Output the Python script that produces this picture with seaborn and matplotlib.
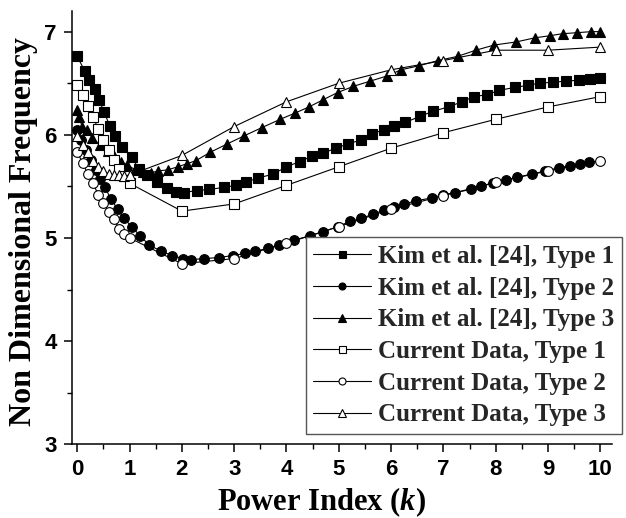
import matplotlib
matplotlib.use("Agg")
import matplotlib.pyplot as plt
from matplotlib.ticker import MultipleLocator
import seaborn as sns
import pandas as pd

sns.set_theme(style="ticks")
plt.rcParams["mathtext.fontset"] = "custom"
plt.rcParams["mathtext.it"] = "Liberation Serif:bold:italic"
plt.rcParams["mathtext.rm"] = "Liberation Serif:bold"

# Kim et al. [24] reference curves
kim1_k = [0, 0.14, 0.23, 0.33, 0.42, 0.51, 0.62, 0.73, 0.86, 1.04, 1.18, 1.34, 1.53, 1.71,
          1.89, 2.04, 2.28, 2.52, 2.8, 3.03, 3.22, 3.45, 3.75, 4.0, 4.25, 4.48, 4.69, 4.94,
          5.17, 5.42, 5.64, 5.87, 6.05, 6.27, 6.56, 6.81, 7.10, 7.35, 7.59, 7.84, 8.06, 8.37,
          8.62, 8.84, 9.10, 9.35, 9.6, 9.8, 10.0]
kim1_f = [6.76, 6.62, 6.53, 6.44, 6.34, 6.22, 6.09, 5.99, 5.88, 5.78, 5.67, 5.61, 5.54, 5.48,
          5.45, 5.44, 5.46, 5.47, 5.49, 5.51, 5.54, 5.58, 5.62, 5.69, 5.74, 5.79, 5.82, 5.87,
          5.91, 5.95, 6.01, 6.05, 6.09, 6.12, 6.18, 6.23, 6.27, 6.32, 6.37, 6.39, 6.43, 6.46,
          6.48, 6.50, 6.51, 6.52, 6.53, 6.54, 6.55]

kim2_k = [0, 0.08, 0.17, 0.26, 0.35, 0.44, 0.53, 0.64, 0.77, 0.89, 1.04, 1.2, 1.38, 1.61,
          1.81, 2.02, 2.18, 2.42, 2.7, 2.98, 3.21, 3.4, 3.64, 3.86, 4.15, 4.44, 4.70, 4.98,
          5.21, 5.43, 5.65, 5.87, 6.05, 6.25, 6.48, 6.79, 7.0, 7.23, 7.52, 7.71, 7.94, 8.19,
          8.41, 8.70, 8.95, 9.21, 9.43, 9.62, 9.78]
kim2_f = [6.05, 5.95, 5.85, 5.76, 5.66, 5.57, 5.49, 5.38, 5.28, 5.19, 5.11, 5.02, 4.93, 4.87,
          4.83, 4.80, 4.79, 4.80, 4.81, 4.83, 4.85, 4.87, 4.90, 4.93, 4.98, 5.02, 5.06, 5.11,
          5.16, 5.19, 5.23, 5.27, 5.30, 5.33, 5.36, 5.39, 5.42, 5.44, 5.47, 5.50, 5.53, 5.56,
          5.59, 5.62, 5.65, 5.68, 5.70, 5.72, 5.74]

kim3_k = [0, 0.04, 0.09, 0.19, 0.29, 0.44, 0.58, 0.70, 0.83, 0.95, 1.11, 1.25, 1.4, 1.55,
          1.73, 1.92, 2.1, 2.27, 2.54, 2.86, 3.19, 3.53, 3.88, 4.16, 4.43, 4.70, 4.98, 5.28,
          5.6, 5.92, 6.19, 6.54, 6.9, 7.27, 7.62, 7.97, 8.39, 8.75, 9.03, 9.28, 9.56, 9.83, 10.0]
kim3_f = [6.24, 6.17, 6.08, 6.05, 5.97, 5.90, 5.84, 5.79, 5.74, 5.71, 5.66, 5.64, 5.63, 5.65,
          5.66, 5.69, 5.72, 5.75, 5.83, 5.91, 5.99, 6.07, 6.15, 6.21, 6.27, 6.34, 6.41, 6.47,
          6.52, 6.57, 6.63, 6.67, 6.72, 6.76, 6.82, 6.87, 6.90, 6.94, 6.96, 6.98, 6.99, 7.0, 7.0]

# Present results
cur_k = [0, 0.1, 0.2, 0.3, 0.4, 0.5, 0.6, 0.7, 0.8, 0.9, 1, 2, 3, 4, 5, 6, 7, 8, 9, 10]
cur1_f = [6.48, 6.39, 6.28, 6.17, 6.06, 5.95, 5.85, 5.76, 5.67, 5.60, 5.53,
          5.26, 5.33, 5.51, 5.69, 5.87, 6.02, 6.15, 6.27, 6.37]
cur2_f = [5.83, 5.73, 5.62, 5.53, 5.42, 5.34, 5.25, 5.18, 5.09, 5.04, 5.00,
          4.75, 4.80, 4.95, 5.11, 5.28, 5.41, 5.54, 5.65, 5.75]
cur3_f = [5.99, 5.90, 5.83, 5.75, 5.69, 5.65, 5.62, 5.61, 5.61, 5.60, 5.61,
          5.80, 6.08, 6.32, 6.50, 6.63, 6.72, 6.82, 6.82, 6.85]

labels = ["Kim et al. [24], Type 1", "Kim et al. [24], Type 2", "Kim et al. [24], Type 3",
          "Current Data, Type 1", "Current Data, Type 2", "Current Data, Type 3"]

series = [
    (kim1_k, kim1_f, "s", "black"),
    (kim2_k, kim2_f, "o", "black"),
    (kim3_k, kim3_f, "^", "black"),
    (cur_k, cur1_f, "s", "white"),
    (cur_k, cur2_f, "o", "white"),
    (cur_k, cur3_f, "^", "white"),
]

W, H = 626, 518
ax_left, ax_right, ax_bottom, ax_top = 71.7, 611.8, 444.3, 11.0

fig = plt.figure(figsize=(W / 100, H / 100), dpi=100)
ax = fig.add_axes([ax_left / W, 1 - ax_bottom / H, (ax_right - ax_left) / W,
                   (ax_bottom - ax_top) / H])

for (kx, fy, mk, face), lab in zip(series, labels):
    df = pd.DataFrame({"k": kx, "f": fy})
    sns.lineplot(data=df, x="k", y="f", ax=ax, color="black", linewidth=0.8,
                 marker=mk, markersize=7.5 if mk == "^" else 7, markerfacecolor=face,
                 markeredgecolor="black", markeredgewidth=0.8, label=lab, sort=False,
                 estimator=None)

ax.set_xlim(-0.107, 10.22)
ax.set_ylim(3, 7.2)
ax.xaxis.set_major_locator(MultipleLocator(1))
ax.xaxis.set_minor_locator(MultipleLocator(0.5))
ax.yaxis.set_major_locator(MultipleLocator(1))
ax.yaxis.set_minor_locator(MultipleLocator(0.5))
ax.tick_params(which="major", direction="out", length=6, width=1.1, color="black", pad=4.7)
ax.tick_params(which="minor", direction="out", length=3.6, width=1.0, color="black")
for lab in ax.get_xticklabels() + ax.get_yticklabels():
    lab.set_fontfamily("Liberation Sans")
    lab.set_fontweight("bold")
    lab.set_fontsize(16)
    lab.set_color("black")

for side in ("top", "right"):
    ax.spines[side].set_visible(False)
for side in ("left", "bottom"):
    ax.spines[side].set_color("black")
    ax.spines[side].set_linewidth(1.1)

ax.set_xlabel(r"Power Index ($k$)", fontfamily="Liberation Serif", fontweight="bold",
              fontsize=22, color="black")
ax.set_ylabel("Non Dimensional Frequency", fontfamily="Liberation Serif",
              fontweight="bold", fontsize=23, color="black")
ax.xaxis.set_label_coords(0.4635, -0.0947)
ax.yaxis.set_label_coords(-0.062, 0.492)

leg = ax.legend(loc="lower right", bbox_to_anchor=(622 / W, 1 - 434 / H),
                bbox_transform=fig.transFigure, frameon=True, fancybox=False,
                edgecolor="#555555", framealpha=1, borderpad=0.3, labelspacing=0.35,
                handlelength=2.3, handletextpad=0.3, borderaxespad=0, markerscale=0.72,
                prop={"family": "Liberation Serif", "weight": "bold", "size": 18})
leg.get_frame().set_linewidth(1.0)

fig.savefig("out.png", dpi=100)
